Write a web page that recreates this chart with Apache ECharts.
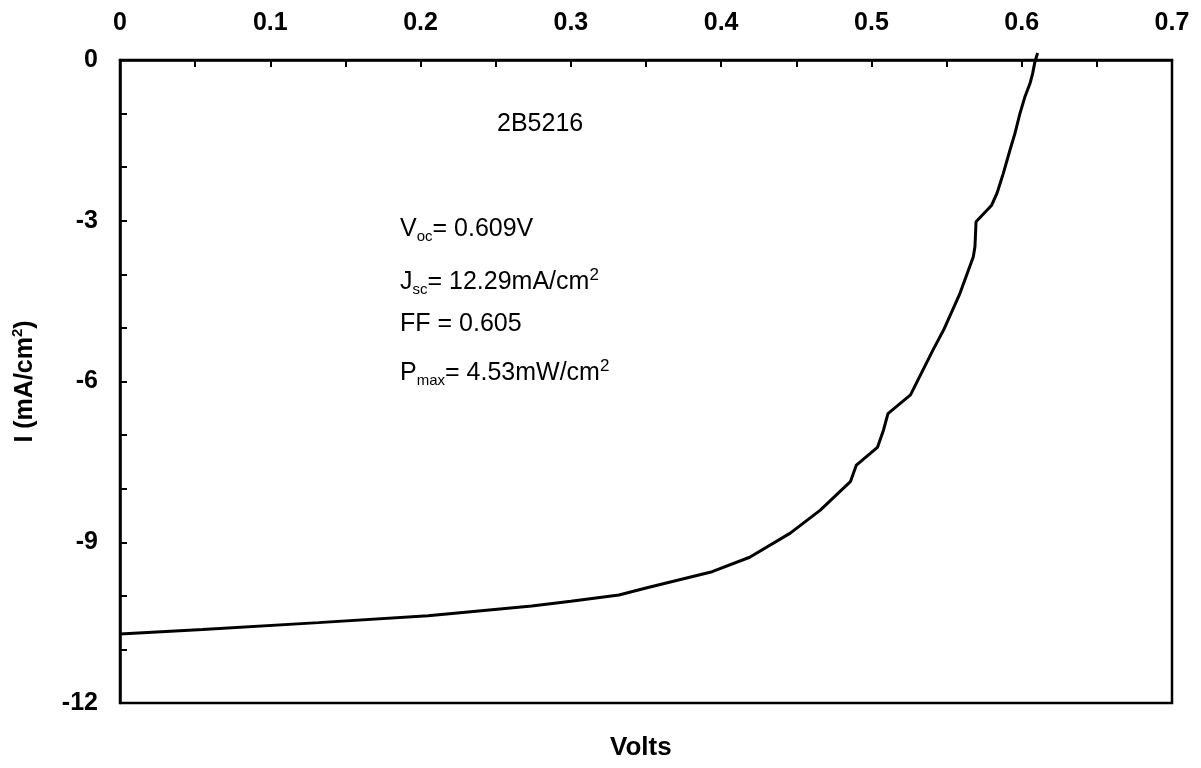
<!DOCTYPE html>
<html>
<head>
<meta charset="utf-8">
<script src="https://cdn.jsdelivr.net/npm/echarts@6/dist/echarts.min.js"></script>
<style>
  html, body { margin: 0; padding: 0; background: #fff; }
  #chart { width: 1201px; height: 768px; }
</style>
</head>
<body>
<div id="chart"></div>
<script>
// Data
const voltage = [0, 0.055, 0.132, 0.205, 0.274, 0.300, 0.332, 0.352, 0.394, 0.419, 0.446, 0.466, 0.486, 0.490, 0.504, 0.508, 0.511, 0.526, 0.541, 0.548, 0.559, 0.5678, 0.5689, 0.5696, 0.580, 0.5835, 0.5877, 0.5922, 0.5955, 0.5988, 0.6022, 0.6055, 0.6073, 0.6088, 0.6106];
const current = [-10.71, -10.63, -10.50, -10.37, -10.19, -10.10, -9.985, -9.84, -9.55, -9.28, -8.83, -8.40, -7.87, -7.56, -7.23, -6.91, -6.60, -6.25, -5.41, -5.04, -4.35, -3.67, -3.48, -3.02, -2.71, -2.49, -2.12, -1.68, -1.37, -1.00, -0.68, -0.44, -0.25, -0.03, 0.13];
const xTickLabels = ['0', '0.1', '0.2', '0.3', '0.4', '0.5', '0.6', '0.7'];
const yTickLabels = ['0', '-3', '-6', '-9', '-12'];

const FONT = 'Liberation Sans, Arial, sans-serif';
const chart = echarts.init(document.getElementById('chart'));

const seriesData = voltage.map((v, i) => [v, current[i]]);

const annoRich = {
  a: { fontSize: 25, fontFamily: FONT, color: '#000', lineHeight: 30 },
  sub: { fontSize: 15, fontFamily: FONT, color: '#000', lineHeight: 15, verticalAlign: 'bottom' },
  sup: { fontSize: 17, fontFamily: FONT, color: '#000', lineHeight: 17, verticalAlign: 'top' }
};

function anno(x, y, text) {
  return {
    type: 'text', left: x, top: y,
    style: { text: text, rich: annoRich, fill: '#000', font: '25px ' + FONT }
  };
}

chart.setOption({
  backgroundColor: '#fff',
  animation: false,
  grid: {
    left: 120, top: 60, right: 29, bottom: 65,
    containLabel: false, outerBoundsMode: 'none',
    show: true, borderColor: '#000', borderWidth: 2.5, backgroundColor: 'transparent'
  },
  xAxis: {
    type: 'value', position: 'top', min: 0, max: 0.7, interval: 0.05,
    axisLine: { show: true, lineStyle: { color: '#000', width: 2.5 } },
    axisTick: { show: true, inside: true, length: 7, lineStyle: { color: '#000', width: 2 } },
    splitLine: { show: false },
    axisLabel: {
      margin: 24, color: '#000', fontSize: 25, fontWeight: 'bold', fontFamily: FONT,
      formatter: function (v) {
        const k = Math.round(v * 20);
        return k % 2 ? '' : xTickLabels[k / 2];
      }
    }
  },
  yAxis: {
    type: 'value', min: -12, max: 0, interval: 1,
    name: '{a|I (mA/cm}{s|2}{a|)}', nameLocation: 'middle', nameRotate: 90, nameGap: 80,
    nameTextStyle: {
      rich: {
        a: { fontSize: 25, fontWeight: 'bold', fontFamily: FONT, color: '#000', lineHeight: 30 },
        s: { fontSize: 15, fontWeight: 'bold', fontFamily: FONT, color: '#000', lineHeight: 15, verticalAlign: 'top' }
      }
    },
    axisLine: { show: true, lineStyle: { color: '#000', width: 2.5 } },
    axisTick: { show: true, inside: true, length: 7, lineStyle: { color: '#000', width: 2 } },
    splitLine: { show: false },
    axisLabel: {
      margin: 22, color: '#000', fontSize: 25, fontWeight: 'bold', fontFamily: FONT,
      formatter: function (v) {
        const k = Math.round(-v);
        return k % 3 ? '' : yTickLabels[k / 3];
      }
    }
  },
  graphic: [
    anno(497, 112, '{a|2B5216}'),
    anno(400, 217, '{a|V}{sub|oc}{a|= 0.609V}'),
    anno(400, 267, '{a|J}{sub|sc}{a|= 12.29mA/cm}{sup|2}'),
    anno(400, 312, '{a|FF = 0.605}'),
    anno(400, 358, '{a|P}{sub|max}{a|= 4.53mW/cm}{sup|2}'),
    {
      type: 'text', left: 610, top: 735,
      style: { text: 'Volts', fill: '#000', font: 'bold 26px ' + FONT }
    }
  ],
  series: [{
    type: 'line',
    data: seriesData,
    showSymbol: false,
    smooth: false,
    clip: false,
    lineStyle: { color: '#000', width: 3 }
  }]
});
</script>
</body>
</html>
